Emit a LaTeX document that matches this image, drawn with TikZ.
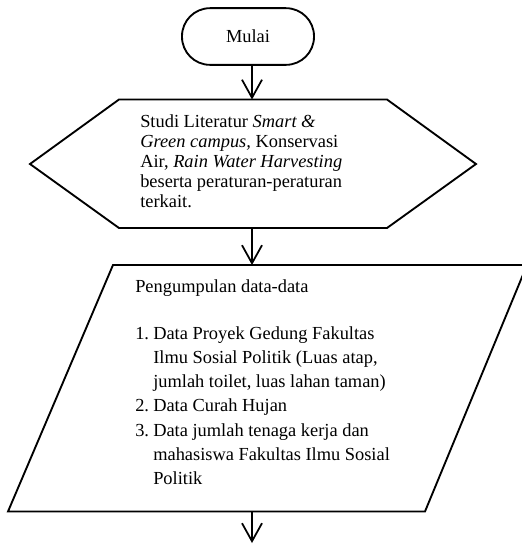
\documentclass[tikz,border=0pt]{standalone}
\usepackage{fontspec}
\setmainfont{Liberation Serif}
\usetikzlibrary{arrows.meta}
\begin{document}
\begin{tikzpicture}[x=0.75pt,y=-0.75pt,
  shapeline/.style={draw=black,line width=1.4pt,line join=miter},
  arr/.style={draw=black,line width=1.3pt,-{Straight Barb[length=13.5pt,width=15pt,line width=1.3pt]}},
  txt/.style={inner sep=0pt,align=left,anchor=north west},
  f1/.style={font={\fontsize{13.8pt}{14.9pt}\selectfont}},
  f2/.style={font={\fontsize{13.8pt}{18.15pt}\selectfont}}]
\useasboundingbox (0,0) rectangle (522,544);
% start terminal
\node[shapeline,rounded corners=21pt,minimum width=99pt,minimum height=42.5pt,f1,inner sep=0pt]
  (mulai) at (248,36.5) {Mulai};
% hexagon
\coordinate (hextop) at (252,99.5);
\coordinate (hexbot) at (252,228);
\draw[shapeline] (119,99.5) -- (387,99.5) -- (476,164) -- (387,228) -- (119,228) -- (30,164) -- cycle;
\node[txt,f1] (studi) at (140,113.4) {\strut Studi Literatur \textit{Smart \&}\\
  \textit{Green campus,} Konservasi\\
  Air, \textit{Rain Water Harvesting}\\
  beserta peraturan-peraturan\\
  terkait.};
% parallelogram
\coordinate (partop) at (252,265);
\coordinate (parbot) at (252,511.5);
\draw[shapeline] (113,265) -- (527,265) -- (425,511.5) -- (8,511.5) -- cycle;
\node[txt,f2] (data) at (135,275.1) {\strut Pengumpulan data-data\\[17.1pt]
  \makebox[13.5pt][l]{1.}Data Proyek Gedung Fakultas\\
  \hspace*{13.5pt}Ilmu Sosial Politik (Luas atap,\\
  \hspace*{13.5pt}jumlah toilet, luas lahan taman)\\
  \makebox[13.5pt][l]{2.}Data Curah Hujan\\
  \makebox[13.5pt][l]{3.}Data jumlah tenaga kerja dan\\
  \hspace*{13.5pt}mahasiswa Fakultas Ilmu Sosial\\
  \hspace*{13.5pt}Politik};
\coordinate (endpt) at (252,543);
% connectors
\draw[arr] (mulai.south -| hextop) -- (hextop);
\draw[arr] (hexbot) -- (partop);
\draw[arr] (parbot) -- (endpt);
\end{tikzpicture}
\end{document}
